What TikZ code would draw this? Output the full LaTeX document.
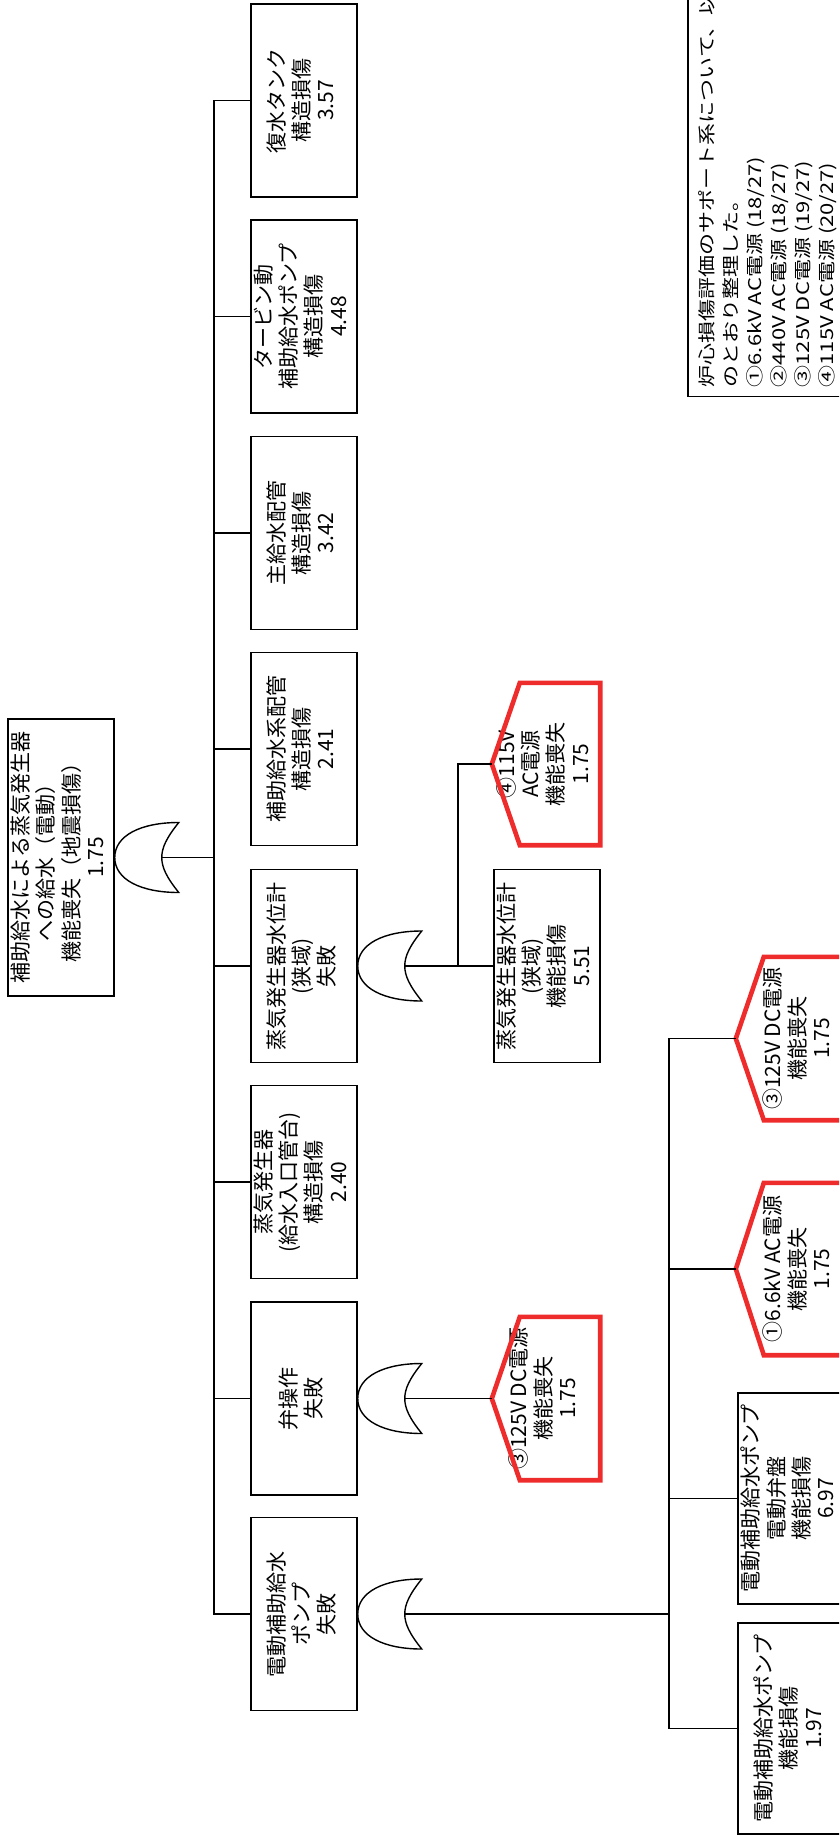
\documentclass[tikz,border=0pt]{standalone}
\usepackage{fontspec}
\setmainfont{Noto Sans CJK JP}
\usepackage{graphicx}
\definecolor{myred}{RGB}{238,44,44}

% rotated multi-line label
\newcommand{\vt}[1]{\rotatebox{90}{\begin{tabular}{@{}c@{}}#1\end{tabular}}}
% OR gate hung on the east side of a node, input point named #1
\newcommand{\orgate}[2]{%
  \begin{scope}[shift={(#2.east)}]
    \draw[gatedraw] (0,0) .. controls (0,-22) and (26,-35) .. (64,-35)
      .. controls (52,-20) and (47,-10) .. (47,0)
      .. controls (47,10) and (52,20) .. (64,35)
      .. controls (26,35) and (0,22) .. (0,0) -- cycle;
    \coordinate (#1) at (47,0);
  \end{scope}}
% house outline round a node, pointing west
\newcommand{\drawhouse}[1]{%
  \draw[redhouse] (#1.north east) -- ([xshift=28pt]#1.north west) -- (#1.west)
    -- ([xshift=28pt]#1.south west) -- (#1.south east) -- cycle;}

\begin{document}
\begin{tikzpicture}[x=1pt,y=-1pt,
  eventbox/.style={draw,line width=1.5pt,inner sep=0pt,minimum width=106pt,minimum height=193pt,font=\fontsize{21}{24.5}\selectfont},
  housenode/.style={inner sep=0pt,minimum width=108pt,font=\fontsize{21}{24.5}\selectfont},
  redhouse/.style={draw=myred,line width=4.6pt},
  wire/.style={line width=1.3pt},
  gatedraw/.style={line width=1.4pt,fill=white},
  notebox/.style={draw,line width=1.5pt,inner xsep=9pt,inner ysep=9pt,font=\fontsize{22}{30}\selectfont}]
  \useasboundingbox (0,0) rectangle (839,1837);
  \clip (0,0) rectangle (839,1837);

  % top event
  \node[eventbox,minimum height=277pt] (r0) at (61,857.5) {\vt{補助給水による蒸気発生器\\への給水（電動）\\機能喪失（地震損傷）\\1.75}};

  % first level
  \node[eventbox] (b1) at (304,100.5) {\vt{復水タンク\\構造損傷\\3.57}};
  \node[eventbox] (b2) at (304,316.5) {\vt{タービン動\\補助給水ポンプ\\構造損傷\\4.48}};
  \node[eventbox] (b3) at (304,533) {\vt{主給水配管\\構造損傷\\3.42}};
  \node[eventbox] (b4) at (304,749) {\vt{補助給水系配管\\構造損傷\\2.41}};
  \node[eventbox] (b5) at (304,966) {\vt{蒸気発生器水位計\\(狭域)\\失敗}};
  \node[eventbox] (b6) at (304,1182) {\vt{蒸気発生器\\(給水入口管台)\\構造損傷\\2.40}};
  \node[eventbox] (b7) at (304,1398.5) {\vt{弁操作\\失敗}};
  \node[eventbox] (b8) at (304,1614) {\vt{電動補助給水\\ポンプ\\失敗}};

  % second level
  \node[eventbox] (c1) at (547,966) {\vt{蒸気発生器水位計\\(狭域)\\機能損傷\\5.51}};
  \node[housenode,minimum height=162pt] (h4) at (546,764) {\vt{④115V\\AC電源\\機能喪失\\1.75}};
  \node[housenode,minimum height=163pt] (h3a) at (546,1398.5) {\vt{③125V DC電源\\機能喪失\\1.75}};
  \node[housenode,minimum width=128pt,minimum height=163pt] (h3b) at (800,1038.5) {\vt{③125V DC電源\\機能喪失\\1.75}};
  \node[housenode,minimum width=128pt,minimum height=172pt] (h1) at (800,1269) {\vt{①6.6kV AC電源\\機能喪失\\1.75}};
  \node[eventbox,minimum height=211pt] (d1) at (791,1498.5) {\vt{電動補助給水ポンプ\\電動弁盤\\機能損傷\\6.97}};
  \node[eventbox,minimum height=211pt] (d2) at (791,1728.5) {\vt{電動補助給水ポンプ\\機能損傷\\1.97}};
  \drawhouse{h4}
  \drawhouse{h3a}
  \drawhouse{h3b}
  \drawhouse{h1}

  % note
  \node[notebox,anchor=south west] (note) at (687,397) {\rotatebox{90}{\scalebox{1}[0.8]{\begin{tabular}{@{}l@{}}
    炉心損傷評価のサポート系について、以下\\
    のとおり整理した。\\
    ①6.6kV AC電源 (18/27)\\
    ②440V AC電源 (18/27)\\
    ③125V DC電源 (19/27)\\
    ④115V AC電源 (20/27)\end{tabular}}}};

  % gates
  \orgate{g0}{r0}
  \orgate{g5}{b5}
  \orgate{g7}{b7}
  \orgate{g8}{b8}

  % connectors
  \coordinate (busA) at (214,0);
  \coordinate (busB) at (458,0);
  \coordinate (busC) at (669,0);
  \draw[wire] (g0) -- (g0 -| busA);
  \draw[wire] (b1.west) -| (busA |- b8.west) -- (b8.west);
  \foreach \n in {b2,b3,b4,b5,b6,b7}
    \draw[wire] (\n.west) -- (\n.west -| busA);
  \draw[wire] (g5) -- (c1.west);
  \draw[wire] (h4.west) -| (busB |- c1.west);
  \draw[wire] (g7) -- (h3a.west);
  \draw[wire] (g8) -- (g8 -| busC);
  \draw[wire] (h3b.west) -| (busC |- d2.west) -- (d2.west);
  \draw[wire] (h1.west) -- (h1.west -| busC);
  \draw[wire] (d1.west) -- (d1.west -| busC);
\end{tikzpicture}
\end{document}
